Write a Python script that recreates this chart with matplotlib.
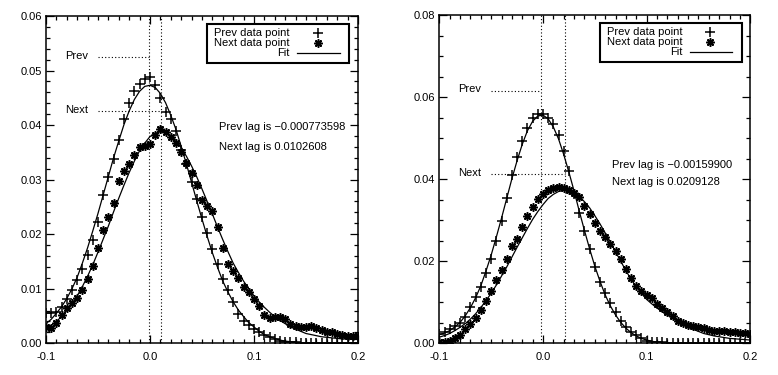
import numpy as np
import matplotlib
matplotlib.use("Agg")
import matplotlib.pyplot as plt
from matplotlib.ticker import MultipleLocator, FormatStrFormatter

plt.rcParams['font.family'] = ['Liberation Sans', 'DejaVu Sans']
plt.rcParams['font.size'] = 8

# sample grid (lag axis)
x = [-0.100, -0.095, -0.090, -0.085, -0.080, -0.075, -0.070, -0.065, -0.060, -0.055,
     -0.050, -0.045, -0.040, -0.035, -0.030, -0.025, -0.020, -0.015, -0.010, -0.005,
     0.000, 0.005, 0.010, 0.015, 0.020, 0.025, 0.030, 0.035, 0.040, 0.045,
     0.050, 0.055, 0.060, 0.065, 0.070, 0.075, 0.080, 0.085, 0.090, 0.095,
     0.100, 0.105, 0.110, 0.115, 0.120, 0.125, 0.130, 0.135, 0.140, 0.145,
     0.150, 0.155, 0.160, 0.165, 0.170, 0.175, 0.180, 0.185, 0.190, 0.195, 0.200]

# ---- left panel ----
prev_pts_l = [0.0055, 0.0055, 0.0057, 0.0067, 0.0081, 0.0098, 0.0116, 0.0136, 0.0162, 0.0190,
              0.0223, 0.0272, 0.0305, 0.0337, 0.0372, 0.0411, 0.0441, 0.0462, 0.0475, 0.0484,
              0.0488, 0.0474, 0.0449, 0.0424, 0.0412, 0.0389, 0.0354, 0.0329, 0.0295, 0.0264,
              0.0231, 0.0203, 0.0173, 0.0145, 0.0118, 0.0098, 0.0076, 0.0053, 0.0040, 0.0033,
              0.0027, 0.0020, 0.0015, 0.0011, 0.0008, 0.0005, 0.0003, 0.0002, 0.0002, 0.0001,
              0.0001, 0.0001, 0.0001, 0.0001, 0.0001, 0.0001, 0.0001, 0.0001, 0.0001, 0.0001, 0.0001]
next_pts_l = [0.0030, 0.0028, 0.0037, 0.0052, 0.0064, 0.0073, 0.0083, 0.0098, 0.0118, 0.0142,
              0.0174, 0.0208, 0.0232, 0.0258, 0.0297, 0.0316, 0.0329, 0.0346, 0.0360, 0.0362,
              0.0366, 0.0381, 0.0393, 0.0388, 0.0379, 0.0367, 0.0350, 0.0330, 0.0312, 0.0290,
              0.0263, 0.0252, 0.0242, 0.0214, 0.0174, 0.0145, 0.0133, 0.0120, 0.0104, 0.0094,
              0.0082, 0.0069, 0.0052, 0.0046, 0.0048, 0.0049, 0.0044, 0.0036, 0.0032, 0.0030,
              0.0030, 0.0032, 0.0028, 0.0024, 0.0021, 0.0020, 0.0017, 0.0016, 0.0014, 0.0013, 0.0013]
prev_fit_l = [0.0036, 0.0044, 0.0055, 0.0067, 0.0082, 0.0100, 0.0121, 0.0147, 0.0175, 0.0206,
              0.0238, 0.0272, 0.0306, 0.0340, 0.0371, 0.0401, 0.0426, 0.0447, 0.0462, 0.0471,
              0.0473, 0.0469, 0.0458, 0.0441, 0.0418, 0.0392, 0.0361, 0.0329, 0.0295, 0.0261,
              0.0228, 0.0196, 0.0166, 0.0139, 0.0114, 0.0094, 0.0076, 0.0061, 0.0049, 0.0038,
              0.0030, 0.0022, 0.0016, 0.0012, 0.0009, 0.0006, 0.0004, 0.0003, 0.0002, 0.0001,
              0.0001, 0.0001, 0.0001, 0.0000, 0.0000, 0.0000, 0.0000, 0.0000, 0.0000, 0.0000, 0.0000]
next_fit_l = [0.0028, 0.0033, 0.0040, 0.0049, 0.0060, 0.0072, 0.0087, 0.0104, 0.0123, 0.0144,
              0.0167, 0.0191, 0.0215, 0.0241, 0.0266, 0.0290, 0.0313, 0.0334, 0.0353, 0.0367,
              0.0379, 0.0385, 0.0388, 0.0386, 0.0381, 0.0372, 0.0359, 0.0343, 0.0325, 0.0305,
              0.0283, 0.0260, 0.0237, 0.0213, 0.0190, 0.0168, 0.0147, 0.0130, 0.0114, 0.0100,
              0.0087, 0.0076, 0.0066, 0.0057, 0.0049, 0.0042, 0.0036, 0.0030, 0.0026, 0.0022,
              0.0018, 0.0016, 0.0014, 0.0012, 0.0011, 0.0010, 0.0009, 0.0008, 0.0008, 0.0007, 0.0007]
prev_lag_l = -0.000773598
next_lag_l = 0.0102608
prev_level_l = 0.0525
next_level_l = 0.0426

# ---- right panel ----
prev_pts_r = [0.0022, 0.0028, 0.0035, 0.0042, 0.0050, 0.0063, 0.0088, 0.0112, 0.0138, 0.0171,
              0.0205, 0.0250, 0.0299, 0.0355, 0.0410, 0.0454, 0.0492, 0.0524, 0.0548, 0.0558,
              0.0558, 0.0548, 0.0534, 0.0508, 0.0469, 0.0420, 0.0365, 0.0318, 0.0274, 0.0229,
              0.0187, 0.0150, 0.0123, 0.0099, 0.0077, 0.0055, 0.0040, 0.0028, 0.0020, 0.0012,
              0.0006, 0.0004, 0.0003, 0.0002, 0.0001, 0.0001, 0.0001, 0.0001, 0.0001, 0.0001,
              0.0001, 0.0001, 0.0001, 0.0001, 0.0001, 0.0001, 0.0001, 0.0001, 0.0001, 0.0001, 0.0001]
next_pts_r = [0.0003, 0.0004, 0.0006, 0.0012, 0.0020, 0.0034, 0.0047, 0.0061, 0.0080, 0.0104,
              0.0128, 0.0154, 0.0179, 0.0205, 0.0238, 0.0254, 0.0284, 0.0310, 0.0333, 0.0351,
              0.0365, 0.0374, 0.0378, 0.0380, 0.0378, 0.0374, 0.0367, 0.0357, 0.0335, 0.0315,
              0.0292, 0.0273, 0.0259, 0.0243, 0.0226, 0.0206, 0.0181, 0.0158, 0.0140, 0.0127,
              0.0118, 0.0110, 0.0097, 0.0086, 0.0077, 0.0066, 0.0055, 0.0049, 0.0045, 0.0042,
              0.0040, 0.0037, 0.0033, 0.0031, 0.0030, 0.0030, 0.0028, 0.0027, 0.0026, 0.0024, 0.0022]
prev_fit_r = [0.0021, 0.0025, 0.0031, 0.0040, 0.0051, 0.0067, 0.0087, 0.0111, 0.0140, 0.0176,
              0.0215, 0.0259, 0.0305, 0.0353, 0.0401, 0.0445, 0.0485, 0.0518, 0.0541, 0.0554,
              0.0556, 0.0547, 0.0527, 0.0498, 0.0460, 0.0417, 0.0371, 0.0322, 0.0275, 0.0230,
              0.0188, 0.0151, 0.0118, 0.0091, 0.0069, 0.0051, 0.0037, 0.0026, 0.0018, 0.0012,
              0.0008, 0.0005, 0.0003, 0.0002, 0.0001, 0.0001, 0.0000, 0.0000, 0.0000, 0.0000,
              0.0000, 0.0000, 0.0000, 0.0000, 0.0000, 0.0000, 0.0000, 0.0000, 0.0000, 0.0000, 0.0000]
next_fit_r = [0.0015, 0.0019, 0.0024, 0.0031, 0.0039, 0.0048, 0.0059, 0.0072, 0.0087, 0.0104,
              0.0122, 0.0142, 0.0164, 0.0186, 0.0210, 0.0234, 0.0257, 0.0280, 0.0302, 0.0321,
              0.0338, 0.0353, 0.0363, 0.0370, 0.0373, 0.0372, 0.0366, 0.0358, 0.0345, 0.0330,
              0.0311, 0.0291, 0.0269, 0.0247, 0.0223, 0.0200, 0.0177, 0.0156, 0.0138, 0.0122,
              0.0107, 0.0096, 0.0086, 0.0077, 0.0069, 0.0061, 0.0053, 0.0046, 0.0039, 0.0034,
              0.0029, 0.0024, 0.0021, 0.0018, 0.0016, 0.0014, 0.0012, 0.0011, 0.0010, 0.0009, 0.0008]
prev_lag_r = -0.00159900
next_lag_r = 0.0209128
prev_level_r = 0.0616
next_level_r = 0.0413

STAR = (8, 2, 0)
DOT = (0, (1, 2))


def lag_str(v):
    return ('%#.6g' % v).replace('-', '\u2212')


def draw_panel(ax, prev_pts, next_pts, prev_fit, next_fit, prev_lag, next_lag,
               prev_level, next_level, ymax, ymajor, yminor, lag_y, lag_dy):
    ax.plot(x, prev_fit, color='black', lw=0.9)
    ax.plot(x, next_fit, color='black', lw=0.9)
    ax.plot(x, prev_pts, ls='none', marker='+', ms=6.5, mew=1.1, color='black')
    ax.plot(x, next_pts, ls='none', marker=STAR, ms=6, mew=1.15, color='black')

    # lag markers
    ax.axvline(prev_lag, color='black', lw=0.8, ls=DOT)
    ax.axvline(next_lag, color='black', lw=0.8, ls=DOT)
    ax.plot([-0.05, prev_lag], [prev_level, prev_level], color='black', lw=0.8, ls=DOT)
    ax.plot([-0.05, next_lag], [next_level, next_level], color='black', lw=0.8, ls=DOT)
    ax.text(-0.082, prev_level + ymax * 0.004, 'Prev', ha='left', va='center')
    ax.text(-0.082, next_level + ymax * 0.004, 'Next', ha='left', va='center')

    ax.text(0.0663, lag_y, 'Prev lag is ' + lag_str(prev_lag), ha='left', va='center')
    ax.text(0.0663, lag_y - lag_dy, 'Next lag is ' + lag_str(next_lag), ha='left', va='center')

    # legend box drawn by hand, IDL style
    tr = ax.transAxes
    ax.add_patch(plt.Rectangle((0.516, 0.856), 0.456, 0.12, transform=tr,
                               fill=False, lw=1.5, color='black'))
    rows = [0.947, 0.917, 0.886]
    ax.text(0.782, rows[0], 'Prev data point', transform=tr, ha='right', va='center')
    ax.text(0.782, rows[1], 'Next data point', transform=tr, ha='right', va='center')
    ax.text(0.782, rows[2], 'Fit', transform=tr, ha='right', va='center')
    ax.plot([0.872], [rows[0]], transform=tr, ls='none', marker='+', ms=6.5, mew=1.1, color='black')
    ax.plot([0.872], [rows[1]], transform=tr, ls='none', marker=STAR, ms=6, mew=1.15, color='black')
    ax.plot([0.806, 0.942], [rows[2], rows[2]], transform=tr, color='black', lw=0.9)

    ax.set_xlim(-0.1, 0.2)
    ax.set_ylim(0, ymax)
    ax.xaxis.set_major_locator(MultipleLocator(0.1))
    ax.xaxis.set_minor_locator(MultipleLocator(0.01))
    ax.yaxis.set_major_locator(MultipleLocator(ymajor))
    ax.yaxis.set_minor_locator(MultipleLocator(yminor))
    ax.xaxis.set_major_formatter(FormatStrFormatter('%.1f'))
    ax.yaxis.set_major_formatter(FormatStrFormatter('%.2f'))
    ax.tick_params(which='both', direction='in', top=True, right=True, width=0.9,
                   labelsize=8, colors='black')
    ax.tick_params(which='major', length=6)
    ax.tick_params(which='minor', length=3)
    ax.tick_params(axis='x', pad=6)
    ax.tick_params(axis='y', pad=3)
    for s in ax.spines.values():
        s.set_linewidth(1.1)


fig = plt.figure(figsize=(7.78, 3.75), dpi=100)
ax1 = fig.add_axes([0.0591, 0.0845, 0.401, 0.8728])
ax2 = fig.add_axes([0.5647, 0.0845, 0.3997, 0.8755])

draw_panel(ax1, prev_pts_l, next_pts_l, prev_fit_l, next_fit_l, prev_lag_l, next_lag_l,
           prev_level_l, next_level_l, 0.06, 0.01, 0.002, 0.0396, 0.0036)
draw_panel(ax2, prev_pts_r, next_pts_r, prev_fit_r, next_fit_r, prev_lag_r, next_lag_r,
           prev_level_r, next_level_r, 0.08, 0.02, 0.005, 0.0435, 0.0043)

fig.savefig('out.png', dpi=100)
